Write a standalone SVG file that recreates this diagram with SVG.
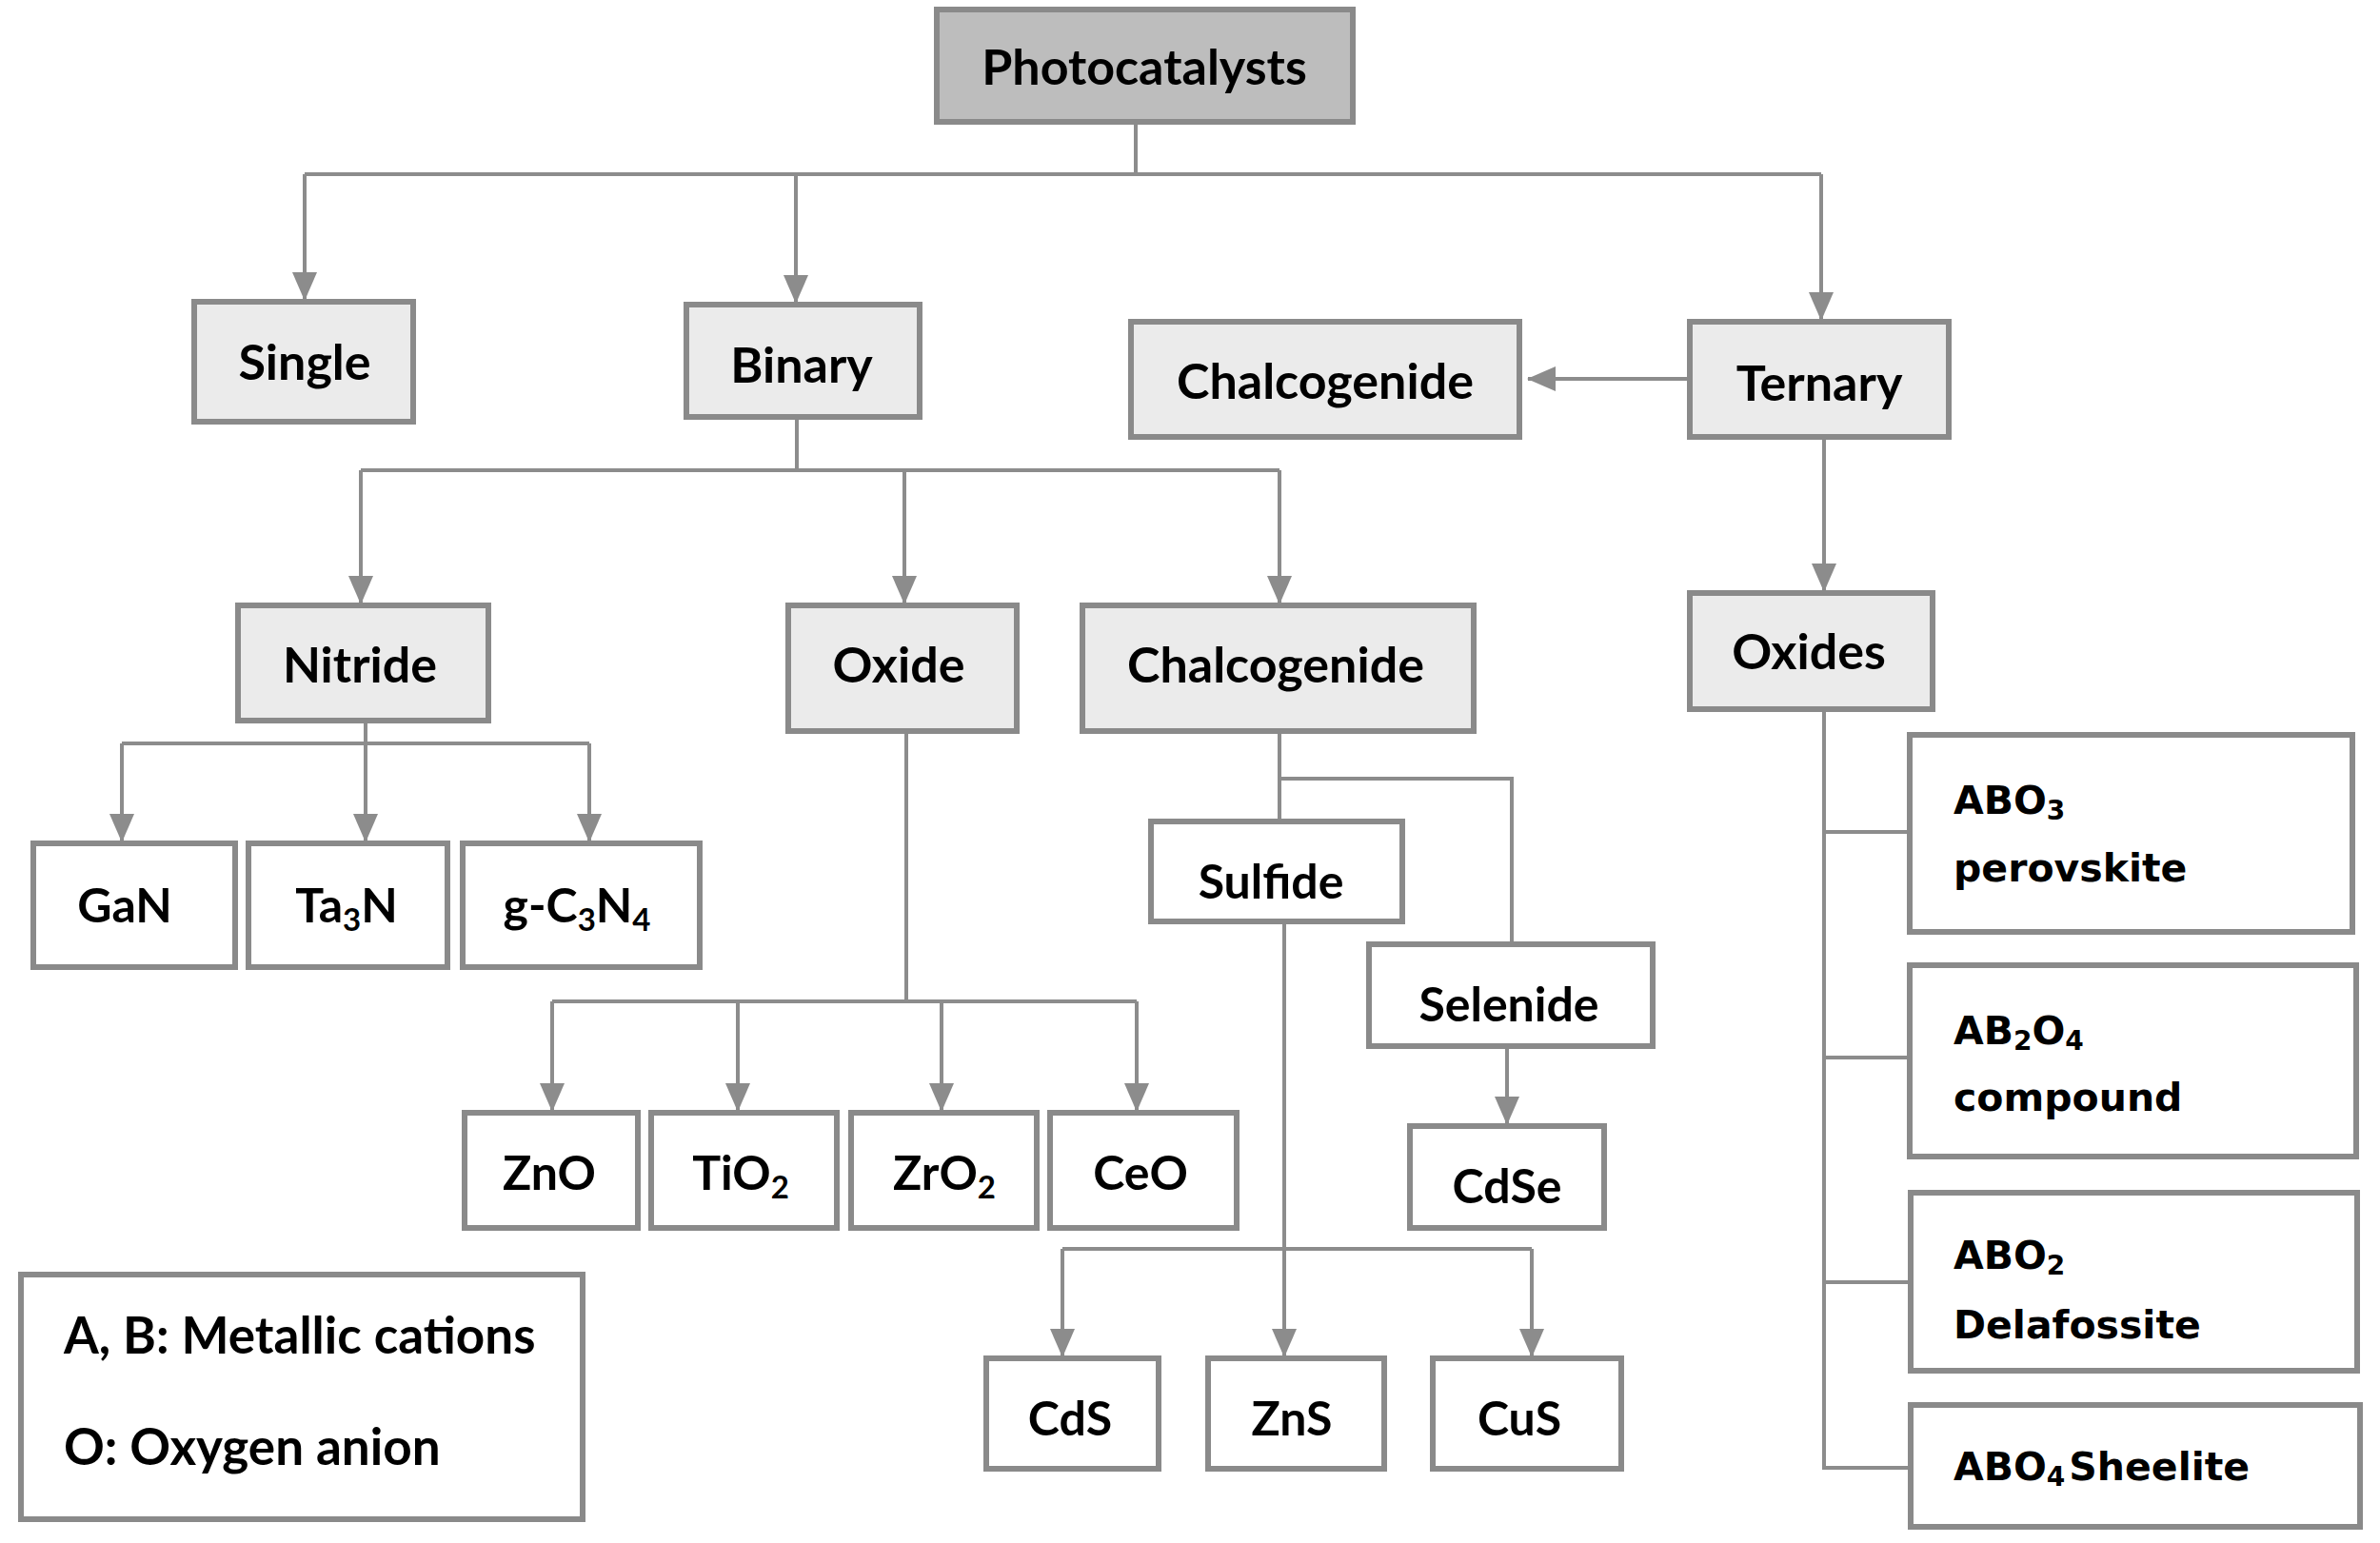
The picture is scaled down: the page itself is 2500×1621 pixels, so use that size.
<svg xmlns="http://www.w3.org/2000/svg" width="2500" height="1621" viewBox="0 0 2500 1621">
<defs>
<marker id="ah" markerUnits="userSpaceOnUse" markerWidth="30" markerHeight="26" viewBox="0 0 30 26" refX="29" refY="13" orient="auto">
<path d="M0,0 L30,13 L0,26 z" fill="#8c8c8c"/>
</marker>
<style>
.box{stroke:#8a8a8a;stroke-width:6;fill:#ffffff}
.lvl{fill:#ebebeb}
.root{fill:#bdbdbd}
.t{font-family:Lato,"Open Sans","Liberation Sans",sans-serif;font-weight:bold;font-size:52px;fill:#000;text-anchor:middle}
.s{font-size:50px}
.lg{font-family:Lato,"Open Sans","Liberation Sans",sans-serif;font-weight:bold;font-size:53px;fill:#000}
.r{font-family:"DejaVu Sans",Verdana,sans-serif;font-weight:bold;font-size:41px;fill:#000}
.c{fill:none;stroke:#8c8c8c;stroke-width:4}
.a{marker-end:url(#ah)}
</style>
</defs>
<rect width="2500" height="1621" fill="#ffffff"/>

<g id="connectors">
<path class="c" d="M1193,128 V183 M320,183 H1913"/>
<path class="c a" d="M320,183 V315"/>
<path class="c a" d="M836,183 V318"/>
<path class="c a" d="M1913,183 V336"/>
<path class="c a" d="M1772,398 H1605"/>
<path class="c a" d="M1916,462 V621"/>
<path class="c" d="M1916,748 V1542 H2004 M1916,874 H2004 M1916,1111 H2004 M1916,1347 H2004"/>
<path class="c" d="M837,441 V494 M379,494 H1344"/>
<path class="c a" d="M379,494 V634"/>
<path class="c a" d="M950,494 V634"/>
<path class="c a" d="M1344,494 V634"/>
<path class="c" d="M384,760 V781 M128,781 H619"/>
<path class="c a" d="M128,781 V884"/>
<path class="c a" d="M384,781 V884"/>
<path class="c a" d="M619,781 V884"/>
<path class="c" d="M952,771 V1052 M580,1052 H1194"/>
<path class="c a" d="M580,1052 V1167"/>
<path class="c a" d="M775,1052 V1167"/>
<path class="c a" d="M989,1052 V1167"/>
<path class="c a" d="M1194,1052 V1167"/>
<path class="c" d="M1344,771 V861 M1344,818 H1588 V990"/>
<path class="c a" d="M1583,1102 V1181"/>
<path class="c a" d="M1349,971 V1425"/>
<path class="c" d="M1116,1312 H1609"/>
<path class="c a" d="M1116,1312 V1425"/>
<path class="c a" d="M1609,1312 V1425"/>
</g>

<g id="photocatalysts"><rect class="box root" x="984" y="10" width="437" height="118"/><text class="t" x="1202" y="89">Photocatalysts</text></g>
<g id="single"><rect class="box lvl" x="204" y="317" width="230" height="126"/><text class="t" x="320" y="399">Single</text></g>
<g id="binary"><rect class="box lvl" x="721" y="320" width="245" height="118"/><text class="t" x="842" y="402">Binary</text></g>
<g id="chalcogenide-ternary"><rect class="box lvl" x="1188" y="338" width="408" height="121"/><text class="t" x="1392" y="419">Chalcogenide</text></g>
<g id="ternary"><rect class="box lvl" x="1775" y="338" width="272" height="121"/><text class="t" x="1911" y="421">Ternary</text></g>
<g id="oxides"><rect class="box lvl" x="1775" y="623" width="255" height="122"/><text class="t" x="1900" y="703">Oxides</text></g>

<g id="nitride"><rect class="box lvl" x="250" y="636" width="263" height="121"/><text class="t" x="378" y="717">Nitride</text></g>
<g id="oxide"><rect class="box lvl" x="828" y="636" width="240" height="132"/><text class="t" x="944" y="717">Oxide</text></g>
<g id="chalcogenide-binary"><rect class="box lvl" x="1137" y="636" width="411" height="132"/><text class="t" x="1340" y="717">Chalcogenide</text></g>

<g id="gan"><rect class="box" x="35" y="886" width="212" height="130"/><text class="t s" x="131" y="969">GaN</text></g>
<g id="ta3n"><rect class="box" x="261" y="886" width="209" height="130"/><text class="t s" x="364" y="969">Ta<tspan font-size="33" dy="9">3</tspan><tspan dy="-9">N</tspan></text></g>
<g id="gc3n4"><rect class="box" x="486" y="886" width="249" height="130"/><text class="t s" x="606" y="969">g-C<tspan font-size="33" dy="9">3</tspan><tspan dy="-9">N</tspan><tspan font-size="33" dy="9">4</tspan></text></g>

<g id="zno"><rect class="box" x="488" y="1169" width="182" height="121"/><text class="t s" x="577" y="1250">ZnO</text></g>
<g id="tio2"><rect class="box" x="684" y="1169" width="195" height="121"/><text class="t s" x="778" y="1250">TiO<tspan font-size="33" dy="9">2</tspan></text></g>
<g id="zro2"><rect class="box" x="894" y="1169" width="195" height="121"/><text class="t s" x="992" y="1250">ZrO<tspan font-size="33" dy="9">2</tspan></text></g>
<g id="ceo"><rect class="box" x="1103" y="1169" width="196" height="121"/><text class="t s" x="1198" y="1250">CeO</text></g>

<g id="sulfide"><rect class="box" x="1209" y="863" width="264" height="105"/><text class="t s" x="1335" y="944">Sulfide</text></g>
<g id="selenide"><rect class="box" x="1438" y="992" width="298" height="107"/><text class="t s" x="1585" y="1073">Selenide</text></g>
<g id="cdse"><rect class="box" x="1481" y="1183" width="204" height="107"/><text class="t s" x="1583" y="1264">CdSe</text></g>

<g id="cds"><rect class="box" x="1036" y="1427" width="181" height="116"/><text class="t s" x="1124" y="1508">CdS</text></g>
<g id="zns"><rect class="box" x="1269" y="1427" width="185" height="116"/><text class="t s" x="1357" y="1508">ZnS</text></g>
<g id="cus"><rect class="box" x="1505" y="1427" width="198" height="116"/><text class="t s" x="1596" y="1508">CuS</text></g>

<g id="abo3"><rect class="box" x="2006" y="772" width="465" height="207"/><text class="r" x="2052" y="855">ABO<tspan font-size="28" dy="6">3</tspan></text><text class="r" x="2052" y="926">perovskite</text></g>
<g id="ab2o4"><rect class="box" x="2006" y="1014" width="469" height="201"/><text class="r" x="2052" y="1097">AB<tspan font-size="28" dy="6">2</tspan><tspan dy="-6">O</tspan><tspan font-size="28" dy="6">4</tspan></text><text class="r" x="2052" y="1167">compound</text></g>
<g id="abo2"><rect class="box" x="2007" y="1253" width="469" height="187"/><text class="r" x="2052" y="1333">ABO<tspan font-size="28" dy="6">2</tspan></text><text class="r" x="2052" y="1406">Delafossite</text></g>
<g id="abo4"><rect class="box" x="2007" y="1476" width="472" height="128"/><text class="r" x="2052" y="1555">ABO<tspan font-size="28" dy="6">4</tspan><tspan dy="-6" dx="4">Sheelite</tspan></text></g>

<g id="legend"><rect class="box" x="22" y="1339" width="590" height="257"/><text class="lg" x="67" y="1422">A, B: Metallic cations</text><text class="lg" x="67" y="1539">O: Oxygen anion</text></g>
</svg>
